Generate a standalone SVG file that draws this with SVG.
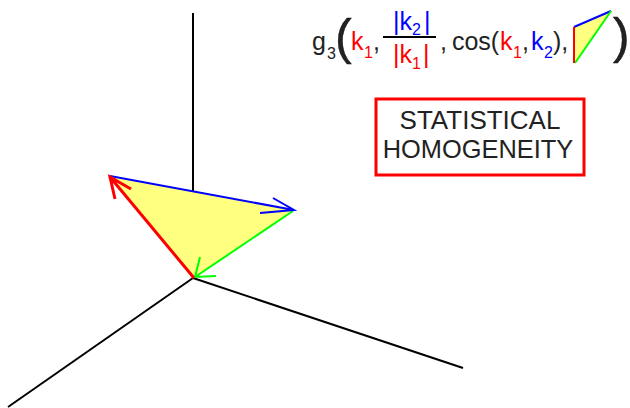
<svg xmlns="http://www.w3.org/2000/svg" width="630" height="408" viewBox="0 0 630 408">
<style>
text{font-family:"Liberation Sans",Arial,sans-serif;fill:#222}
.f{font-size:25px}.s{font-size:16px}.r{fill:#f00}.b{fill:#00f}
.p{font-size:50px;stroke:#111;stroke-width:.4px}
.ax{stroke:#000;stroke-width:2;fill:none}
.arr{fill:none;stroke-width:2}
</style>
<rect width="630" height="408" fill="#fff"/>
<g id="axes" class="ax">
<line x1="193" y1="13" x2="193" y2="278"/>
<line x1="193" y1="278" x2="8" y2="407"/>
<line x1="193" y1="278" x2="463" y2="368"/>
</g>
<g id="triangle"><polygon points="110,176 294,210 194,278" fill="#ffff80"/></g>
<g id="connectors">
<path class="arr" stroke="#0f0" d="M293,211 L195,277 M200,257 L195,277 L216,276"/>
<path class="arr" stroke="#00f" d="M110,176 L294,210 M273,198 L294,210 L260,213"/>
<path class="arr" stroke="#f00" style="stroke-width:3" d="M194,278 L110,177 M115,199 L110,177 L131,189"/>
</g>
<g id="formula">
<text class="f" x="312" y="50">g</text><text class="s" x="327" y="59">3</text>
<text class="p" x="335" y="54">(</text>
<text class="f r" x="351" y="50">k</text><text class="s r" x="364" y="58">1</text><text class="f" x="373" y="50">,</text>
<text class="f b" x="393" y="30">|k</text><text class="s b" x="412" y="35">2</text><text class="f b" x="424" y="30">|</text>
<line x1="383" y1="37" x2="436" y2="37" stroke="#000" stroke-width="2"/>
<text class="f r" x="393" y="63">|k</text><text class="s r" x="412" y="69">1</text><text class="f r" x="423" y="63">|</text>
<text class="f" x="440" y="50">,</text>
<text class="f" x="452" y="50" textLength="47">cos(</text>
<text class="f r" x="500" y="50">k</text><text class="s r" x="513" y="58">1</text><text class="f" x="522" y="50">,</text>
<text class="f b" x="531" y="50">k</text><text class="s b" x="544" y="58">2</text><text class="f" x="553" y="50">),</text>
<polygon points="574,27 611,11 575,63" fill="#ffff80"/>
<path d="M574,27 L611,11" stroke="#00f" stroke-width="2" fill="none"/>
<path d="M611,11 L575,63" stroke="#0f0" stroke-width="2" fill="none"/>
<path d="M574,27 L574,63" stroke="#f00" stroke-width="2" fill="none"/>
<text class="p" x="613" y="53">)</text>
</g>
<g id="label">
<rect x="376" y="99" width="208" height="76" fill="#fff" stroke="#f00" stroke-width="3"/>
<text x="480" y="129" text-anchor="middle" style="font-size:26px">STATISTICAL</text>
<text x="478" y="158" text-anchor="middle" style="font-size:25.4px">HOMOGENEITY</text>
</g>
</svg>
